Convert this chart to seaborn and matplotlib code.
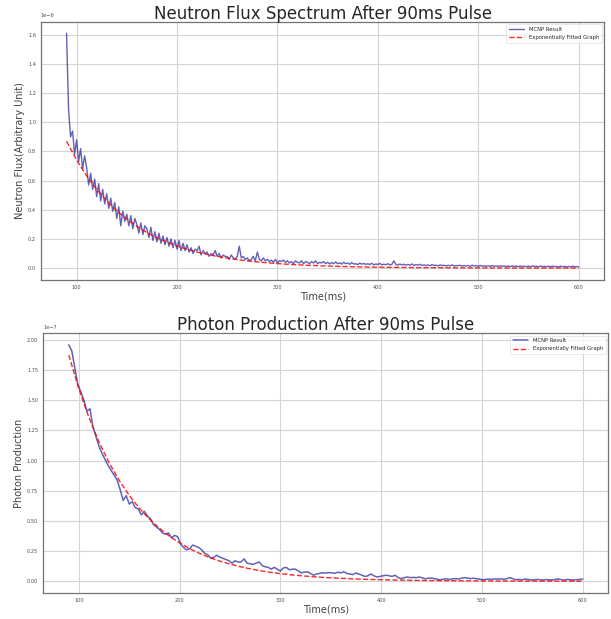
import numpy as np
import matplotlib
matplotlib.use("Agg")
import matplotlib.pyplot as plt
import seaborn as sns

# Neutron flux (units of 1e-6), MCNP result sampled every 2 ms from 90 to 600 ms
neutron_time = np.arange(90, 601, 2)
neutron_mcnp = [
    1.61, 1.09, 0.90, 0.94, 0.78, 0.88, 0.73, 0.82, 0.68, 0.77,
    0.69, 0.57, 0.65, 0.54, 0.61, 0.49, 0.58, 0.46, 0.54, 0.44,
    0.51, 0.41, 0.48, 0.39, 0.45, 0.34, 0.42, 0.29, 0.39, 0.32,
    0.37, 0.29, 0.36, 0.27, 0.34, 0.30, 0.24, 0.31, 0.23, 0.29,
    0.27, 0.21, 0.28, 0.19, 0.25, 0.18, 0.24, 0.17, 0.22, 0.16,
    0.21, 0.15, 0.20, 0.14, 0.19, 0.13, 0.19, 0.12, 0.17, 0.12,
    0.16, 0.11, 0.14, 0.10, 0.13, 0.12, 0.15, 0.09, 0.12, 0.10,
    0.11, 0.08, 0.10, 0.09, 0.12, 0.08, 0.10, 0.07, 0.09, 0.08,
    0.08, 0.06, 0.09, 0.07, 0.06, 0.08, 0.15, 0.07, 0.08, 0.06,
    0.07, 0.05, 0.06, 0.08, 0.05, 0.11, 0.06, 0.05, 0.07, 0.05,
    0.06, 0.045, 0.055, 0.04, 0.06, 0.035, 0.05, 0.045, 0.055, 0.04,
    0.05, 0.035, 0.045, 0.03, 0.05, 0.04, 0.035, 0.05, 0.03, 0.045,
    0.04, 0.03, 0.045, 0.035, 0.05, 0.03, 0.04, 0.035, 0.045, 0.03,
    0.04, 0.028, 0.038, 0.03, 0.042, 0.03, 0.036, 0.028, 0.04, 0.03,
    0.035, 0.026, 0.038, 0.028, 0.03, 0.024, 0.034, 0.027, 0.032, 0.025,
    0.03, 0.024, 0.033, 0.022, 0.028, 0.025, 0.032, 0.022, 0.027, 0.023,
    0.03, 0.022, 0.026, 0.05, 0.025, 0.02, 0.028, 0.022, 0.026, 0.02,
    0.025, 0.02, 0.028, 0.018, 0.024, 0.02, 0.026, 0.018, 0.022, 0.017,
    0.022, 0.016, 0.024, 0.018, 0.02, 0.015, 0.022, 0.017, 0.02, 0.014,
    0.02, 0.015, 0.022, 0.014, 0.018, 0.016, 0.02, 0.013, 0.018, 0.014,
    0.018, 0.012, 0.02, 0.014, 0.017, 0.012, 0.018, 0.013, 0.016, 0.012,
    0.016, 0.011, 0.018, 0.012, 0.015, 0.011, 0.016, 0.012, 0.015, 0.01,
    0.015, 0.01, 0.016, 0.011, 0.014, 0.01, 0.015, 0.01, 0.013, 0.01,
    0.014, 0.009, 0.015, 0.01, 0.013, 0.009, 0.014, 0.01, 0.012, 0.009,
    0.013, 0.009, 0.014, 0.009, 0.012, 0.008, 0.013, 0.009, 0.012, 0.008,
    0.012, 0.008, 0.013, 0.009, 0.011, 0.008,
]

# Fitted neutron curve, every 10 ms
fit_time = np.arange(90, 601, 10)
neutron_fit = [
    0.870, 0.742, 0.633, 0.540, 0.461, 0.393, 0.336, 0.286, 0.244, 0.208,
    0.178, 0.152, 0.129, 0.110, 0.0941, 0.0803, 0.0685, 0.0585, 0.0499, 0.0426,
    0.0363, 0.0310, 0.0264, 0.0226, 0.0193, 0.0164, 0.0140, 0.0120, 0.0102, 0.0087,
    0.0074, 0.0064, 0.0054, 0.0046, 0.0039, 0.0034, 0.0029, 0.0024, 0.0021, 0.0018,
    0.0015, 0.0013, 0.0011, 0.0009, 0.0008, 0.0007, 0.0006, 0.0005, 0.0004, 0.0004,
    0.0003, 0.0003,
]

# Photon production (units of 1e-7), MCNP result every 3 ms
photon_time = np.arange(90, 601, 3)
photon_mcnp = [
    1.96, 1.91, 1.77, 1.63, 1.57, 1.50, 1.41, 1.43, 1.28, 1.20,
    1.12, 1.06, 1.01, 0.96, 0.92, 0.88, 0.84, 0.76, 0.67, 0.71,
    0.64, 0.66, 0.61, 0.60, 0.55, 0.58, 0.54, 0.52, 0.47, 0.45,
    0.43, 0.40, 0.39, 0.40, 0.36, 0.38, 0.37, 0.31, 0.28, 0.26,
    0.27, 0.30, 0.29, 0.28, 0.26, 0.23, 0.22, 0.19, 0.20, 0.215,
    0.20, 0.19, 0.18, 0.17, 0.15, 0.17, 0.16, 0.16, 0.185, 0.15,
    0.145, 0.14, 0.15, 0.16, 0.13, 0.12, 0.115, 0.10, 0.115, 0.10,
    0.085, 0.11, 0.115, 0.095, 0.10, 0.10, 0.085, 0.07, 0.075, 0.078,
    0.065, 0.05, 0.06, 0.065, 0.07, 0.068, 0.072, 0.07, 0.065, 0.075,
    0.07, 0.078, 0.065, 0.06, 0.055, 0.068, 0.06, 0.05, 0.04, 0.045,
    0.06, 0.045, 0.035, 0.04, 0.045, 0.05, 0.045, 0.04, 0.05, 0.03,
    0.022, 0.03, 0.035, 0.03, 0.032, 0.03, 0.035, 0.028, 0.02, 0.025,
    0.026, 0.022, 0.015, 0.012, 0.018, 0.02, 0.015, 0.02, 0.022, 0.018,
    0.025, 0.03, 0.025, 0.022, 0.025, 0.02, 0.018, 0.012, 0.015, 0.018,
    0.015, 0.02, 0.018, 0.02, 0.015, 0.022, 0.03, 0.02, 0.012, 0.015,
    0.012, 0.018, 0.015, 0.01, 0.012, 0.015, 0.012, 0.01, 0.014, 0.012,
    0.01, 0.015, 0.02, 0.012, 0.01, 0.015, 0.012, 0.01, 0.012, 0.015,
    0.018,
]

photon_fit = [
    1.875, 1.596, 1.358, 1.155, 0.983, 0.837, 0.712, 0.606, 0.516, 0.439,
    0.373, 0.318, 0.270, 0.230, 0.196, 0.167, 0.142, 0.121, 0.103, 0.0874,
    0.0744, 0.0633, 0.0539, 0.0459, 0.0390, 0.0332, 0.0283, 0.0241, 0.0205, 0.0174,
    0.0148, 0.0126, 0.0108, 0.0092, 0.0078, 0.0066, 0.0056, 0.0048, 0.0041, 0.0035,
    0.0030, 0.0025, 0.0021, 0.0018, 0.0016, 0.0013, 0.0011, 0.0010, 0.0008, 0.0007,
    0.0006, 0.0005,
]

sns.set_theme(style="whitegrid")
plt.rcParams['font.family'] = ['DejaVu Sans']
plt.rcParams['axes.edgecolor'] = '0.45'
plt.rcParams['grid.color'] = '0.83'

fig = plt.figure(figsize=(6.11, 6.19), dpi=100)
ax1 = fig.add_axes([0.067, 0.548, 0.922, 0.417])
ax2 = fig.add_axes([0.0705, 0.042, 0.925, 0.420])

panels = [
    (ax1, neutron_time, np.array(neutron_mcnp) * 1e-6, np.array(neutron_fit) * 1e-6,
     'Neutron Flux Spectrum After 90ms Pulse', 'Neutron Flux(Arbitrary Unit)', 1.0),
    (ax2, photon_time, np.array(photon_mcnp) * 1e-7, np.array(photon_fit) * 1e-7,
     'Photon Production After 90ms Pulse', 'Photon Production', 1.1),
]

for ax, t, y, yfit, title, ylabel, lw in panels:
    sns.lineplot(x=t, y=y, ax=ax, color='darkblue', alpha=0.62, lw=lw,
                 label='MCNP Result')
    sns.lineplot(x=fit_time, y=yfit, ax=ax, color='red', alpha=0.85, lw=1.0,
                 linestyle='--', label='Exponentially Fitted Graph')
    ax.set_title(title, fontsize=12, pad=2)
    ax.set_xlabel('Time(ms)', fontsize=7, labelpad=1, color='0.25')
    ax.set_ylabel(ylabel, fontsize=7, labelpad=2, color='0.25')
    ax.tick_params(labelsize=3.6, length=1.5, pad=2, colors='0.3')
    ax.yaxis.get_offset_text().set_fontsize(3.6)
    ax.yaxis.get_offset_text().set_color('0.3')
    ax.set_xticks([100, 200, 300, 400, 500, 600])
    ax.grid(True, lw=0.8)
    for s in ax.spines.values():
        s.set_linewidth(0.9)
    leg = ax.legend(loc='upper right', fontsize=3.8, frameon=True,
                    handlelength=3, borderpad=0.5, labelspacing=0.6)
    leg.get_frame().set_linewidth(0.4)

ax2.set_yticks([0.0, 0.25e-7, 0.5e-7, 0.75e-7, 1.0e-7, 1.25e-7, 1.5e-7, 1.75e-7, 2.0e-7])

fig.savefig('out.png', dpi=100)
